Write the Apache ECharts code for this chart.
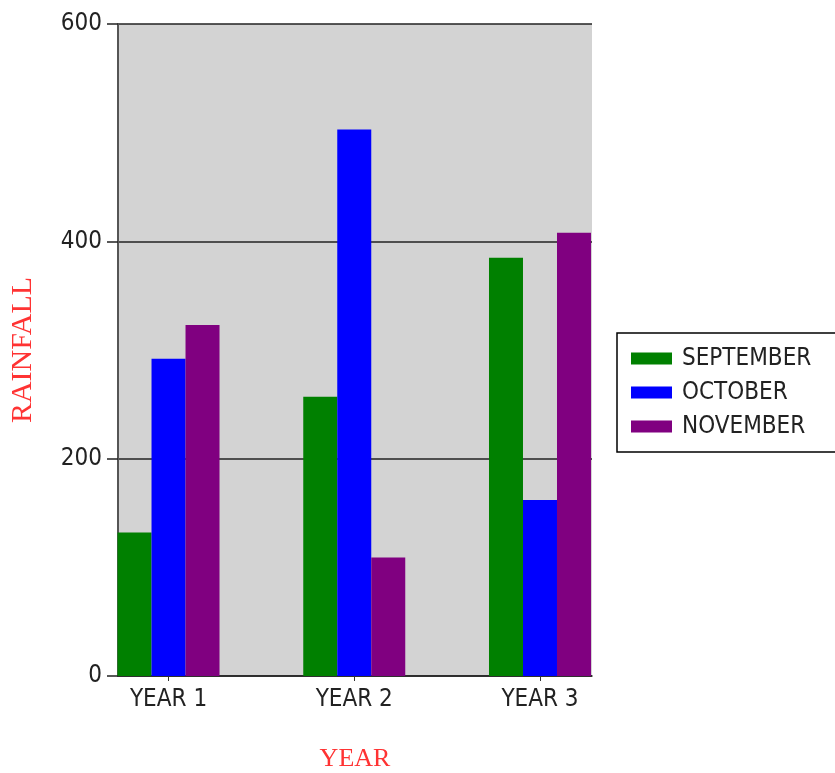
<!DOCTYPE html>
<html>
<head>
<meta charset="utf-8">
<script src="https://cdn.jsdelivr.net/npm/echarts@6/dist/echarts.min.js"></script>
<style>html,body{margin:0;padding:0;background:#fff;}#c{width:835px;height:773px;}</style>
</head>
<body>
<div id="c"></div>
<script>
const categories = ['YEAR 1', 'YEAR 2', 'YEAR 3'];
const september = [132, 257, 385];
const october = [292, 503, 162];
const november = [323, 109, 408];
const yTicks = [0, 200, 400, 600];

const narrow = '"Liberation Sans Narrow", "DejaVu Sans Condensed", "Liberation Sans", Arial, sans-serif';
const serif = '"Liberation Serif", "Times New Roman", serif';

const chart = echarts.init(document.getElementById('c'), null, {renderer: 'canvas'});
const mk = (name, vals, color) => ({
  name, type: 'bar', barWidth: 34, barGap: '0%',
  itemStyle: {color},
  data: vals.map((v, i) => [i, v])
});
chart.setOption({
  animation: false,
  grid: {left: 118, right: 243, top: 24, bottom: 97, show: true, backgroundColor: '#d3d3d3', borderWidth: 0,
    outerBoundsMode: 'none', containLabel: false},
  legend: {
    orient: 'vertical', left: 617, top: 333,
    borderColor: '#000', borderWidth: 1.5,
    padding: [13, 40, 13, 14],
    itemWidth: 41, itemHeight: 12, itemGap: 9,
    icon: 'rect',
    textStyle: {fontFamily: narrow, fontSize: 24, lineHeight: 25, color: '#222', padding: [0, 0, 0, 5]},
    data: ['SEPTEMBER', 'OCTOBER', 'NOVEMBER']
  },
  xAxis: {
    type: 'value', min: -0.272, max: 2.28,
    name: 'YEAR', nameLocation: 'middle', nameGap: 70,
    nameTextStyle: {fontFamily: serif, fontSize: 26, color: '#ff3333'},
    axisLine: {show: true, onZero: false, lineStyle: {color: '#222', width: 1.5}},
    axisTick: {show: true, length: 5, customValues: [0, 1, 2], lineStyle: {color: '#333'}},
    axisLabel: {customValues: [0, 1, 2], formatter: v => categories[Math.round(v)], margin: 12,
      fontFamily: narrow, fontSize: 24, color: '#222'},
    splitLine: {show: false}
  },
  yAxis: {
    type: 'value', min: yTicks[0], max: yTicks[yTicks.length - 1], interval: 200,
    name: 'RAINFALL', nameLocation: 'middle', nameGap: 80, nameRotate: 90,
    nameTextStyle: {fontFamily: serif, fontSize: 30, color: '#ff3333'},
    axisLine: {show: true, onZero: false, lineStyle: {color: '#555', width: 2}},
    axisTick: {show: true, length: 11, lineStyle: {color: '#222', width: 1.5}},
    axisLabel: {margin: 16, fontFamily: narrow, fontSize: 24, color: '#222'},
    splitLine: {show: true, lineStyle: {color: '#222', width: 1.5}}
  },
  series: [
    mk('SEPTEMBER', september, '#008000'),
    mk('OCTOBER', october, '#0000ff'),
    mk('NOVEMBER', november, '#800080')
  ]
});
</script>
</body>
</html>
